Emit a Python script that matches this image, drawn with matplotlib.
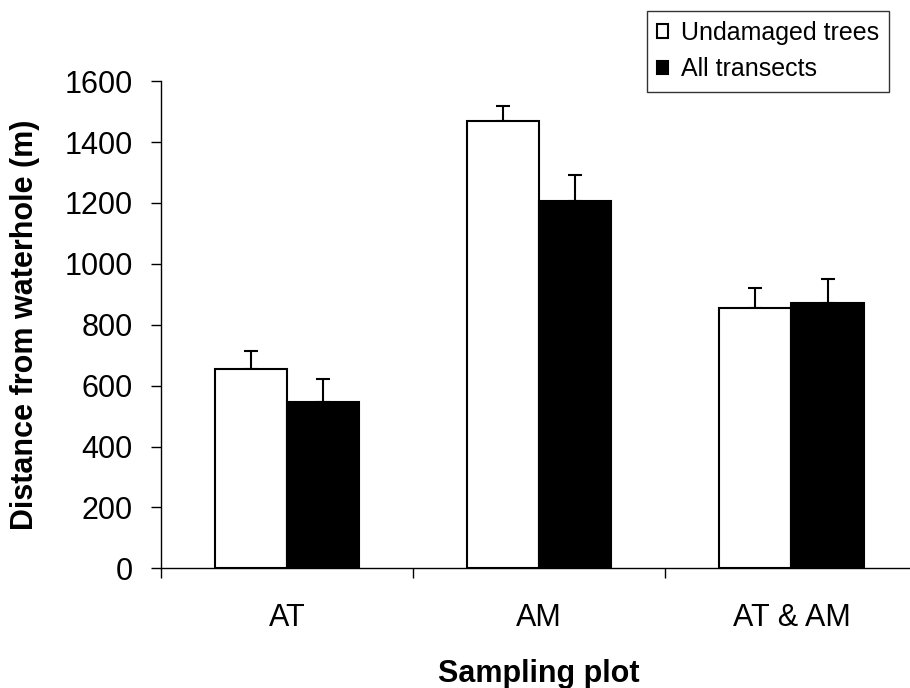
import matplotlib
matplotlib.use("Agg")
import matplotlib.pyplot as plt
import numpy as np

# значения
categories = ["AT", "AM", "AT & AM"]
undamaged = [656, 1470, 854]
undamaged_err = [58, 47, 66]
transects = [545, 1208, 872]
transects_err = [77, 85, 79]

plt.rcParams["font.family"] = ["Liberation Sans", "DejaVu Sans"]

fig = plt.figure(figsize=(9.10, 6.88), dpi=100)
ax = fig.add_axes([0.1766, 0.174, 0.8318, 0.708])

x = np.arange(len(categories)) + 0.5
w = 1 / 3.5
ax.bar(x - w / 2, undamaged, w, color="white", edgecolor="black", linewidth=1.5,
       label="Undamaged trees", zorder=2)
ax.bar(x + w / 2, transects, w, color="black", edgecolor="black", linewidth=1.5,
       label="All transects", zorder=2)
ax.errorbar(x - w / 2, undamaged, yerr=[np.zeros(3), undamaged_err], fmt="none",
            ecolor="black", elinewidth=1.5, capsize=5, capthick=1.5, zorder=1)
ax.errorbar(x + w / 2, transects, yerr=[np.zeros(3), transects_err], fmt="none",
            ecolor="black", elinewidth=1.5, capsize=5, capthick=1.5, zorder=1)

ax.set_xlim(0, 3)
ax.set_ylim(0, 1600)
ax.set_yticks(range(0, 1601, 200))
ax.set_xticks([0, 1, 2, 3])
ax.set_xticklabels([])
ax.set_xticks(x, minor=True)
ax.set_xticklabels(categories, minor=True)
ax.tick_params(axis="x", which="major", direction="out", length=7, width=1)
ax.tick_params(axis="x", which="minor", length=0, pad=25, labelsize=22)
ax.tick_params(axis="y", direction="out", length=7, width=1, labelsize=22, pad=13)

for s in ("top", "right"):
    ax.spines[s].set_visible(False)
for s in ("left", "bottom"):
    ax.spines[s].set_linewidth(1)

ax.set_xlabel("Sampling plot", fontsize=22, fontweight="bold")
ax.xaxis.set_label_coords(0.5, -0.186)
ax.set_ylabel("Distance from waterhole (m)", fontsize=22, fontweight="bold")
ax.yaxis.set_label_coords(-0.16, 0.5)

leg = ax.legend(loc="upper left", bbox_to_anchor=(647 / 910, 1 - 11 / 688),
                bbox_transform=fig.transFigure, borderaxespad=0, fontsize=18,
                frameon=True, fancybox=False, edgecolor="black", handlelength=0.45,
                handleheight=0.45, handletextpad=0.5, borderpad=0.4, labelspacing=0.5)
leg.get_frame().set_linewidth(1)

fig.savefig("out.png", dpi=100)
